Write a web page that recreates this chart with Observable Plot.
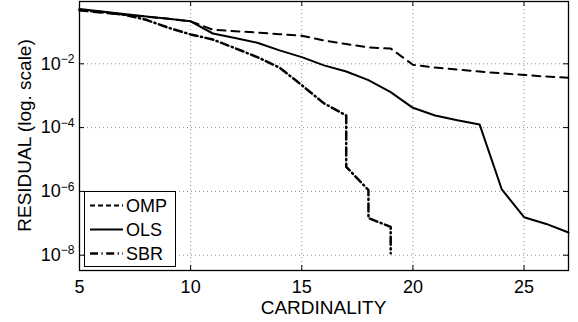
<!DOCTYPE html>
<html><head><meta charset="utf-8">
<script src="https://cdn.jsdelivr.net/npm/d3@7"></script>
<script src="https://cdn.jsdelivr.net/npm/@observablehq/plot@0.6"></script>
<style>body{margin:0;background:#fff} svg{display:block}</style>
</head><body><div id="chart"></div>
<script>
const cardinality = [5,6,7,8,9,10,11,12,13,14,15,16,17,18,19,20,21,22,23,24,25,26,27];
const ompResidual = [0.468,0.398,0.347,0.302,0.257,0.214,0.117,0.105,0.0955,0.0851,0.0759,0.0537,0.0417,0.0324,0.0302,0.00933,0.00759,0.00661,0.00575,0.00501,0.00447,0.00398,0.00363];
const olsResidual = [0.525,0.437,0.363,0.302,0.257,0.214,0.0891,0.0646,0.0457,0.0263,0.0162,0.00891,0.00575,0.00309,0.00129,0.000417,0.000240,0.000170,0.000126,1.15e-6,1.55e-7,9.55e-8,5.13e-8];
const sbrCardinality = [5,6,7,8,9,10,11,12,13,14,15,16,17,17,18,18,19,19];
const sbrResidual = [0.490,0.417,0.347,0.240,0.135,0.0832,0.0575,0.0309,0.0162,0.00759,0.00214,0.000575,0.000240,5.89e-6,1.10e-6,1.45e-7,7.76e-8,1.15e-8];
const xTicks = [5,10,15,20,25];
const xGrid = [10,15,20,25];
const yTicks = [1e-2,1e-4,1e-6,1e-8];
const seriesNames = ["OMP","OLS","SBR"];
const xLabel = "CARDINALITY";
const yLabel = "RESIDUAL (log. scale)";

const W = 578, H = 322, mL = 79, mR = 10, mT = 1, mB = 52;
const pw = W - mL - mR, ph = H - mT - mB;
const tick = 5;

const omp = cardinality.map((x,i)=>({x, r: ompResidual[i]}));
const ols = cardinality.map((x,i)=>({x, r: olsResidual[i]}));
const sbr = sbrCardinality.map((x,i)=>({x, r: sbrResidual[i]}));

const styles = {
  OMP: {stroke:"black", strokeWidth:2, strokeDasharray:"8,6"},
  OLS: {stroke:"black", strokeWidth:2},
  SBR: {stroke:"black", strokeWidth:2.5, strokeDasharray:"8,3.5,1.2,3.5"}
};

const chart = Plot.plot({
  width: W, height: H,
  marginLeft: mL, marginRight: mR, marginTop: mT, marginBottom: mB,
  style: {fontFamily: "'Liberation Sans', Arial, Helvetica, sans-serif", fontSize: "18px", background: "white", color: "black"},
  x: {domain: [5,27]},
  y: {type: "log", domain: [Math.pow(10,-8.48), Math.pow(10,-0.047)]},
  marks: [
    Plot.ruleX(xGrid, {x: d=>d, stroke:"#8a8a8a", strokeDasharray:"1,3", strokeWidth:1}),
    Plot.ruleY(yTicks, {y: d=>d, stroke:"#8a8a8a", strokeDasharray:"1,3", strokeWidth:1}),
    Plot.line(omp, {x:"x", y:"r", ...styles.OMP}),
    Plot.line(ols, {x:"x", y:"r", ...styles.OLS}),
    Plot.line(sbr, {x:"x", y:"r", ...styles.SBR}),
    Plot.ruleX(xTicks, {x: d=>d, insetTop: ph - tick, stroke:"black"}),
    Plot.ruleX(xTicks, {x: d=>d, insetBottom: ph - tick, stroke:"black"}),
    Plot.ruleY(yTicks, {y: d=>d, insetRight: pw - tick, stroke:"black"}),
    Plot.ruleY(yTicks, {y: d=>d, insetLeft: pw - tick, stroke:"black"}),
    Plot.axisX({ticks: xTicks, tickSize: 0, tickPadding: 10, label: null, tickFormat: d=>String(d)}),
    Plot.axisY({ticks: yTicks, tickSize: 0, tickPadding: 5, label: null, tickFormat: d=>String(Math.round(Math.log10(d)))}),
    Plot.frame({stroke:"black", strokeWidth:1.3})
  ]
});

const svg = d3.select(chart);
svg.selectAll('g[aria-label="y-axis tick label"] text').each(function(){
  const e = this.textContent.replace("-", "\u2212").replace("\u2212\u2212","\u2212");
  this.textContent = "";
  d3.select(this).append("tspan").text("10");
  d3.select(this).append("tspan").attr("dy","-0.55em").attr("font-size","12px").text(e);
});

svg.append("text").attr("x", mL + pw/2).attr("y", 314).attr("text-anchor","middle")
  .attr("font-size","19px").attr("fill","black").text(xLabel);
svg.append("text").attr("transform", `translate(31,${mT + ph/2}) rotate(-90)`).attr("text-anchor","middle")
  .attr("font-size","19px").attr("fill","black").text(yLabel);

// legend
const lg = svg.append("g");
lg.append("rect").attr("x",84.5).attr("y",191.5).attr("width",91).attr("height",75)
  .attr("fill","white").attr("stroke","black").attr("stroke-width",1);
const rowY = [205.5, 229.5, 253.5];
seriesNames.forEach((name,i)=>{
  const s = styles[name];
  lg.append("line").attr("x1",90).attr("x2",123).attr("y1",rowY[i]).attr("y2",rowY[i])
    .attr("stroke","black").attr("stroke-width", s.strokeWidth).attr("stroke-dasharray", name==="OMP" ? "5,3" : (s.strokeDasharray||null));
  lg.append("text").attr("x",126).attr("y",rowY[i]).attr("dy","0.36em").attr("text-anchor","start")
    .attr("font-size","18px").attr("fill","black").text(name);
});

document.getElementById("chart").appendChild(chart);
</script>
</body></html>
